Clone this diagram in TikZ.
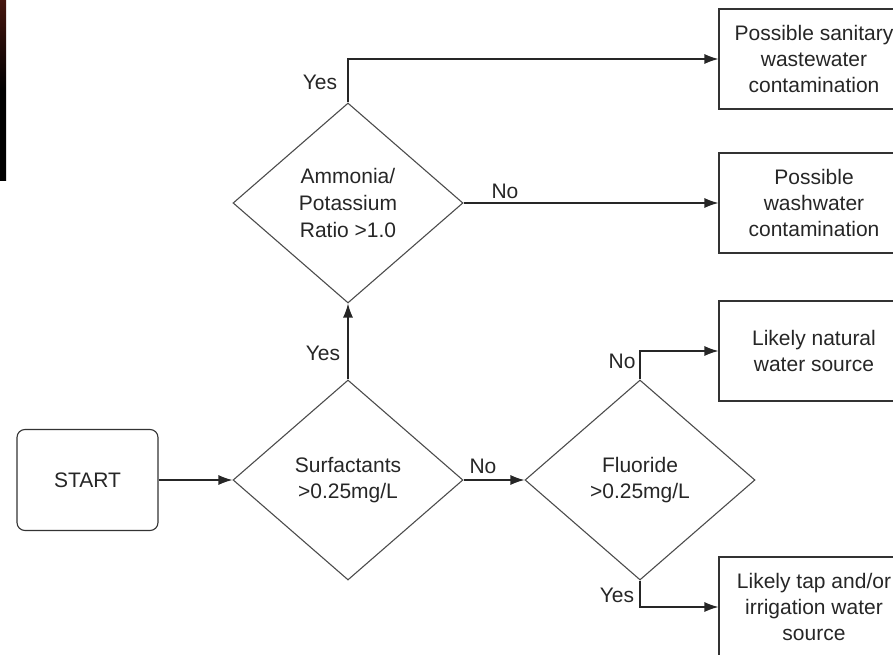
\documentclass[tikz,border=0pt]{standalone}
\usepackage{fontspec}
\setmainfont{Liberation Sans}
\usetikzlibrary{shapes.geometric,arrows.meta}
\begin{document}
\begin{tikzpicture}[x=1pt,y=-1pt,
  every node/.style={font=\fontsize{21}{26}\selectfont, text=black!85},
  decision/.style={draw=black!70, line width=1.1pt, shape=diamond, minimum width=230pt, minimum height=200pt, inner sep=0pt, align=center},
  outbox/.style={draw=black!80, line width=1.1pt, rectangle, minimum width=190pt, minimum height=100pt, align=center, inner sep=0pt},
  startbox/.style={draw=black!80, line width=1.1pt, rectangle, rounded corners=8pt, minimum width=141pt, minimum height=101pt},
  conn/.style={draw=black!85, line width=1.2pt, -{Latex[length=14pt,width=10pt]}},
  lbl/.style={inner sep=0pt}]
\useasboundingbox (0,0) rectangle (893,655);
\fill[top color={rgb,255:red,70;green,22;blue,15}, bottom color=black, middle color=black] (0,0) rectangle (6,180);

\node[startbox] (start) at (87.5,480) {START};
\node[decision] (surf) at (348,480) {Surfactants\\>0.25mg/L};
\node[decision] (fluo) at (640,480) {Fluoride\\>0.25mg/L};
\node[decision, font=\fontsize{21}{27}\selectfont] (amm) at (348,203) {Ammonia/\\Potassium\\Ratio >1.0};

\node[outbox] (b1) at (814,59) {Possible sanitary\\wastewater\\contamination};
\node[outbox] (b2) at (814,203) {Possible\\washwater\\contamination};
\node[outbox] (b3) at (814,351) {Likely natural\\water source};
\node[outbox] (b4) at (814,607) {Likely tap and/or\\irrigation water\\source};

\draw[conn] (start.east) -- (surf.west);
\draw[conn] (surf.north) -- (amm.south);
\draw[conn] (surf.east) -- (fluo.west);
\draw[conn] (amm.north) |- (b1.west);
\draw[conn] (amm.east) -- (b2.west);
\draw[conn] (fluo.north) |- (b3.west);
\draw[conn] (fluo.south) |- (b4.west);

\node[lbl] (l1) at (320,82) {Yes};
\node[lbl] (l2) at (505,191) {No};
\node[lbl] (l3) at (323,353) {Yes};
\node[lbl] (l4) at (483,466) {No};
\node[lbl] (l5) at (622,361) {No};
\node[lbl] (l6) at (617,595) {Yes};
\end{tikzpicture}
\end{document}
